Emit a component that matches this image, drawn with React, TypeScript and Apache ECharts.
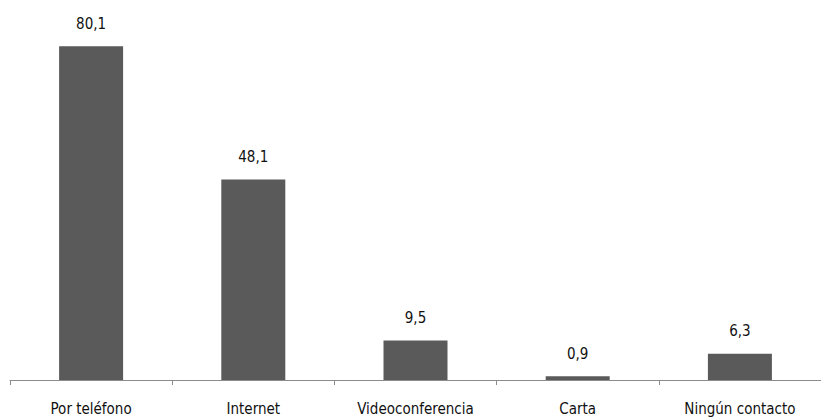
import React, { useEffect, useRef } from "react";
import * as echarts from "echarts";

const categories = ["Por teléfono", "Internet", "Videoconferencia", "Carta", "Ningún contacto"];
const values = [80.1, 48.1, 9.5, 0.9, 6.3];

const FONT = "'Liberation Sans Narrow', 'DejaVu Sans Condensed', 'Roboto Condensed', sans-serif";

export default function App() {
  const ref = useRef<HTMLDivElement>(null);

  useEffect(() => {
    if (!ref.current) return;
    const chart = echarts.init(ref.current, null, { renderer: "svg" });
    chart.setOption({
      animation: false,
      backgroundColor: "#ffffff",
      grid: { left: 10, right: -10, top: 5, bottom: 37 },
      xAxis: {
        type: "category",
        data: categories,
        axisLine: { show: true, lineStyle: { color: "#8c8c8c", width: 1 } },
        axisTick: { show: true, length: 5, alignWithLabel: false, lineStyle: { color: "#8c8c8c" } },
        axisLabel: {
          interval: 0,
          margin: 21,
          color: "#111111",
          fontFamily: FONT,
          fontSize: 15,
        },
      },
      yAxis: {
        type: "value",
        min: 0,
        max: 90,
        show: false,
        splitLine: { show: false },
      },
      series: [
        {
          type: "bar",
          data: values,
          barWidth: 64,
          itemStyle: { color: "#5a5a5a" },
          label: {
            show: true,
            position: "top",
            distance: 15,
            color: "#111111",
            fontFamily: FONT,
            fontSize: 15,
            formatter: (p: any) => String(p.value).replace(".", ","),
          },
        },
      ],
    });
    return () => chart.dispose();
  }, []);

  return (
    <div
      ref={ref}
      style={{ position: "absolute", left: 0, top: 0, width: 821, height: 417, background: "#fff" }}
    />
  );
}
